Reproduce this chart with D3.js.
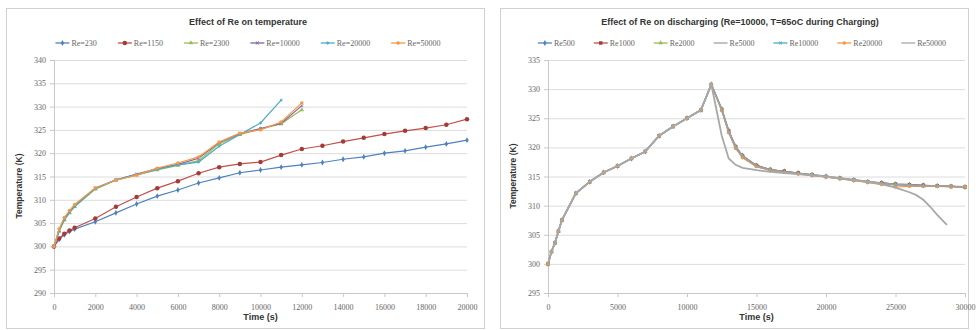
<!DOCTYPE html>
<html>
<head>
<meta charset="utf-8">
<script src="https://cdn.jsdelivr.net/npm/d3@7"></script>
<style>
  body { margin: 0; background: #fff; }
  svg { display: block; }
</style>
</head>
<body>
<svg id="chart" width="976" height="330"></svg>
<script>
// ---- left chart: Effect of Re on temperature ----
const tempTimeLong = [0, 250, 500, 750, 1000, 2000, 3000, 4000, 5000, 6000, 7000, 8000, 9000, 10000,
  11000, 12000, 13000, 14000, 15000, 16000, 17000, 18000, 19000, 20000];
const tempRe230 = [300, 301.5, 302.5, 303.2, 303.7, 305.3, 307.2, 309.1, 310.8, 312.1, 313.6, 314.7, 315.8, 316.4,
  317, 317.5, 318, 318.7, 319.2, 320, 320.5, 321.3, 322, 322.8];
const tempRe1150 = [300, 301.7, 302.7, 303.4, 304, 306, 308.5, 310.6, 312.5, 314, 315.7, 317, 317.7, 318.1,
  319.6, 320.9, 321.6, 322.5, 323.3, 324.1, 324.8, 325.4, 326.1, 327.3];
const tempTimeShort = [0, 250, 500, 750, 1000, 2000, 3000, 4000, 5000, 6000, 7000, 8000, 9000, 10000, 11000, 12000];
const tempRe2300 = [300, 303.2, 305.6, 307.2, 308.5, 312.3, 314.2, 315.3, 316.4, 317.4, 318.4, 322, 324, 325.2, 326.3, 329.3];
const tempRe10000 = [300, 303.5, 305.9, 307.4, 308.7, 312.5, 314.3, 315.5, 316.7, 317.6, 318.9, 322.3, 324.2, 325.3, 326.4, 330.2];
const tempTime20000 = [0, 250, 500, 750, 1000, 2000, 3000, 4000, 5000, 6000, 7000, 8000, 9000, 10000, 11000];
const tempRe20000 = [300, 303.4, 305.8, 307.3, 308.6, 312.4, 314.3, 315.4, 316.5, 317.5, 318.1, 321.5, 324, 326.5, 331.4];
const tempRe50000 = [300, 303.8, 306.2, 307.7, 309, 312.6, 314.2, 315.3, 316.8, 317.9, 319.2, 322.4, 324.3, 325, 326.7, 330.8];
const tempLabels = ["Re=230", "Re=1150", "Re=2300", "Re=10000", "Re=20000", "Re=50000"];
const tempXTicks = [0, 2000, 4000, 6000, 8000, 10000, 12000, 14000, 16000, 18000, 20000];
const tempYTicks = [290, 295, 300, 305, 310, 315, 320, 325, 330, 335, 340];

// ---- right chart: Effect of Re on discharging ----
const chargeTime = [0, 250, 500, 750, 1000, 2000, 3000, 4000, 5000, 6000, 7000, 8000, 9000, 10000, 11000, 11750];
const chargeTemp = [300, 302.1, 303.6, 305.6, 307.5, 312.1, 314.1, 315.7, 316.8, 318.1, 319.3, 322, 323.6, 325, 326.4, 330.8];
const dischargeTime = [12500, 13000, 13500, 14000, 15000, 16000, 17000, 18000, 19000, 20000, 21000, 22000,
  23000, 24000, 25000, 26000, 27000, 28000, 29000, 30000];
const disRe500 = [326.6, 322.9, 320.2, 318.6, 316.9, 316.2, 315.9, 315.6, 315.3, 315.0, 314.7, 314.4, 314.1, 313.9, 313.7, 313.6, 313.5, 313.4, 313.3, 313.2];
const disRe1000 = [326.5, 322.8, 320.1, 318.5, 316.9, 316.2, 315.9, 315.6, 315.3, 315.0, 314.7, 314.4, 314.1, 313.9, 313.7, 313.6, 313.5, 313.4, 313.3, 313.2];
const disRe2000 = [326.5, 322.7, 320.1, 318.5, 316.8, 316.2, 315.8, 315.5, 315.3, 315.0, 314.7, 314.4, 314.1, 313.8, 313.6, 313.5, 313.4, 313.4, 313.3, 313.2];
const disRe5000 = [326.5, 322.7, 320, 318.4, 316.8, 316.1, 315.8, 315.5, 315.3, 315.0, 314.7, 314.4, 314.1, 313.8, 313.6, 313.5, 313.4, 313.4, 313.3, 313.2];
const disRe10000 = [326.4, 322.6, 319.9, 318.3, 316.7, 316.1, 315.7, 315.5, 315.2, 315.0, 314.7, 314.4, 314.1, 313.8, 313.6, 313.5, 313.4, 313.3, 313.3, 313.2];
const disRe20000 = [326.3, 322.5, 319.8, 318.2, 316.7, 316.0, 315.7, 315.4, 315.2, 314.9, 314.6, 314.3, 314, 313.6, 313.2, 313.3, 313.3, 313.3, 313.2, 313.2];
const dischargeTime50000 = [12500, 13000, 13500, 14000, 15000, 16000, 17000, 18000, 19000, 20000, 21000, 22000,
  23000, 24000, 25000, 26000, 26500, 27000, 27500, 28000, 28700];
const disRe50000 = [322, 318.1, 317, 316.5, 316.1, 315.8, 315.6, 315.4, 315.2, 315, 314.7, 314.4, 314.1, 313.7, 313.1, 312.3, 311.8, 311, 309.8, 308.4, 306.7];
const disLabels = ["Re500", "Re1000", "Re2000", "Re5000", "Re10000", "Re20000", "Re50000"];
const disXTicks = [0, 5000, 10000, 15000, 20000, 25000, 30000];
const disYTicks = [295, 300, 305, 310, 315, 320, 325, 330, 335];

const svg = d3.select("#chart");
const zip = (xs, ys) => xs.map((x, i) => ({t: x, v: ys[i]}));

const timesSym = d3.symbolTimes || d3.symbolCross;
const starSym = d3.symbolAsterisk || d3.symbolStar;

function drawChart(cfg) {
  const g = svg.append("g");

  // panel frame
  g.append("rect")
    .attr("x", cfg.box[0] + 0.5).attr("y", cfg.box[1] + 0.5)
    .attr("width", cfg.box[2]).attr("height", cfg.box[3])
    .attr("fill", "#fff").attr("stroke", "#d0d0d0");

  const x = d3.scaleLinear().domain(cfg.xDomain).range([cfg.plot.left, cfg.plot.right]);
  const y = d3.scaleLinear().domain(cfg.yDomain).range([cfg.plot.bottom, cfg.plot.top]);

  // gridlines
  g.append("g")
    .attr("transform", "translate(" + cfg.plot.left + ",0)")
    .call(d3.axisLeft(y).tickValues(cfg.yTicks).tickSize(-(cfg.plot.right - cfg.plot.left)).tickFormat(""))
    .call(a => a.select(".domain").remove())
    .call(a => a.selectAll("line").attr("stroke", "#dcdcdc"));

  // y axis
  g.append("g")
    .attr("transform", "translate(" + cfg.plot.left + ",0)")
    .call(d3.axisLeft(y).tickValues(cfg.yTicks).tickSize(4).tickPadding(4))
    .call(a => a.select(".domain").attr("stroke", "#c8c8c8"))
    .call(a => a.selectAll("line").attr("stroke", "#c8c8c8"))
    .call(a => a.selectAll("text").attr("fill", "#666").style("font-family", "Liberation Serif").style("font-size", "8px"));

  // x axis
  g.append("g")
    .attr("transform", "translate(0," + cfg.plot.bottom + ")")
    .call(d3.axisBottom(x).tickValues(cfg.xTicks).tickSize(4).tickPadding(7).tickFormat(d3.format("d")))
    .call(a => a.select(".domain").attr("stroke", "#c8c8c8"))
    .call(a => a.selectAll("line").attr("stroke", "#c8c8c8"))
    .call(a => a.selectAll("text").attr("fill", "#666").style("font-family", "Liberation Serif").style("font-size", "8px"));

  // titles
  g.append("text")
    .attr("x", cfg.titleX).attr("y", 25)
    .attr("text-anchor", "middle")
    .style("font-family", "Liberation Sans").style("font-size", "9px").style("font-weight", "bold")
    .attr("fill", "#333")
    .text(cfg.title);

  g.append("text")
    .attr("x", (cfg.plot.left + cfg.plot.right) / 2).attr("y", 320)
    .attr("text-anchor", "middle")
    .style("font-family", "Liberation Sans").style("font-size", "9px").style("font-weight", "bold")
    .attr("fill", "#333")
    .text("Time (s)");

  g.append("text")
    .attr("transform", "translate(" + cfg.yTitleX + "," + cfg.yTitleY + ") rotate(-90)")
    .attr("text-anchor", "middle")
    .style("font-family", "Liberation Sans").style("font-size", "8.5px").style("font-weight", "bold")
    .attr("fill", "#333")
    .text("Temperature (K)");

  // lines + markers
  const line = d3.line().x(d => x(d.t)).y(d => y(d.v));
  cfg.series.forEach(s => {
    g.append("path")
      .datum(s.data)
      .attr("d", line)
      .attr("fill", "none")
      .attr("stroke", s.color)
      .attr("stroke-width", s.width || 1.2);
    if (s.symbol) {
      g.selectAll(null)
        .data(s.data)
        .enter()
        .append("path")
        .attr("transform", d => "translate(" + x(d.t) + "," + y(d.v) + ")")
        .attr("d", d3.symbol().type(s.symbol).size(s.size || 10))
        .attr("fill", s.stroked ? "none" : s.markColor || s.color)
        .attr("stroke", s.stroked ? (s.markColor || s.color) : "none")
        .attr("stroke-width", 0.8);
    }
  });

  // legend
  const leg = g.append("g");
  let cx = 0;
  cfg.series.slice().sort((a, b) => a.order - b.order).forEach(s => {
    const item = leg.append("g").attr("transform", "translate(" + cx + ",0)");
    item.append("line").attr("x1", 0).attr("x2", 14).attr("y1", 0).attr("y2", 0)
      .attr("stroke", s.color).attr("stroke-width", 1.3);
    if (s.symbol) {
      item.append("path").attr("transform", "translate(7,0)")
        .attr("d", d3.symbol().type(s.symbol).size(s.size || 10))
        .attr("fill", s.stroked ? "none" : s.markColor || s.color)
        .attr("stroke", s.stroked ? (s.markColor || s.color) : "none");
    }
    const txt = item.append("text").attr("x", 16).attr("y", 3)
      .style("font-family", "Liberation Serif").style("font-size", "8px")
      .attr("fill", "#666")
      .text(s.name);
    cx += 16 + txt.node().getComputedTextLength() + cfg.legendGap;
  });
  const legW = cx - cfg.legendGap;
  leg.attr("transform", "translate(" + (cfg.legendX - legW / 2) + ",43)");
}

// left chart
drawChart({
  box: [6, 8, 478, 320],
  plot: {left: 54, right: 467, top: 60, bottom: 293},
  xDomain: [0, 20000], yDomain: [290, 340],
  xTicks: tempXTicks, yTicks: tempYTicks,
  title: "Effect of Re on temperature", titleX: 248,
  yTitleX: 22, yTitleY: 186,
  legendX: 248, legendGap: 21,
  series: [
    {order: 0, name: tempLabels[0], color: "#4f81bd", symbol: d3.symbolDiamond, size: 10, data: zip(tempTimeLong, tempRe230)},
    {order: 1, name: tempLabels[1], color: "#c0504d", markColor: "#a33b38", symbol: d3.symbolCircle, size: 16, data: zip(tempTimeLong, tempRe1150)},
    {order: 2, name: tempLabels[2], color: "#9bbb59", symbol: d3.symbolTriangle, size: 9, data: zip(tempTimeShort, tempRe2300)},
    {order: 3, name: tempLabels[3], color: "#8064a2", symbol: timesSym, size: 7, stroked: true, data: zip(tempTimeShort, tempRe10000)},
    {order: 4, name: tempLabels[4], color: "#4bacc6", symbol: starSym, size: 7, stroked: true, data: zip(tempTime20000, tempRe20000)},
    {order: 5, name: tempLabels[5], color: "#f79646", symbol: d3.symbolCircle, size: 9, data: zip(tempTimeShort, tempRe50000)}
  ]
});

// right chart - gray lines drawn last so they sit on top
drawChart({
  box: [500, 8, 468, 320],
  plot: {left: 548, right: 965, top: 60, bottom: 293},
  xDomain: [0, 30000], yDomain: [295, 335],
  xTicks: disXTicks, yTicks: disYTicks,
  title: "Effect of Re on discharging (Re=10000, T=65oC during Charging)", titleX: 740,
  yTitleX: 516, yTitleY: 176,
  legendX: 742, legendGap: 19,
  series: [
    {order: 0, name: disLabels[0], color: "#4f81bd", symbol: d3.symbolDiamond, size: 10, data: zip(chargeTime.concat(dischargeTime), chargeTemp.concat(disRe500))},
    {order: 1, name: disLabels[1], color: "#c0504d", markColor: "#a33b38", symbol: d3.symbolSquare, size: 12, data: zip(chargeTime.concat(dischargeTime), chargeTemp.concat(disRe1000))},
    {order: 2, name: disLabels[2], color: "#9bbb59", symbol: d3.symbolTriangle, size: 9, data: zip(chargeTime.concat(dischargeTime), chargeTemp.concat(disRe2000))},
    {order: 4, name: disLabels[4], color: "#4bacc6", symbol: timesSym, size: 7, stroked: true, data: zip(chargeTime.concat(dischargeTime), chargeTemp.concat(disRe10000))},
    {order: 5, name: disLabels[5], color: "#f79646", symbol: d3.symbolCircle, size: 9, data: zip(chargeTime.concat(dischargeTime), chargeTemp.concat(disRe20000))},
    {order: 3, name: disLabels[3], color: "#a0a0a0", width: 1.8, data: zip(chargeTime.concat(dischargeTime), chargeTemp.concat(disRe5000))},
    {order: 6, name: disLabels[6], color: "#a8a8a8", width: 1.8, data: zip(chargeTime.concat(dischargeTime50000), chargeTemp.concat(disRe50000))}
  ]
});
</script>
</body>
</html>
